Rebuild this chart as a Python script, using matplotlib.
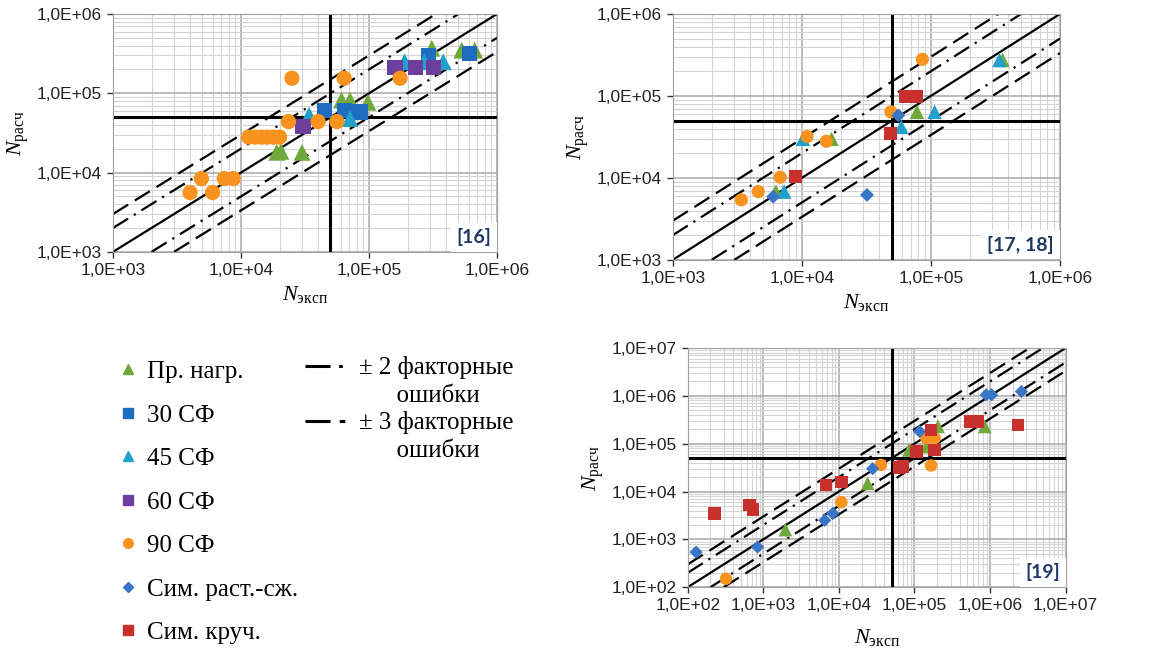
"""Calculated vs experimental fatigue life, three data sources, log-log scatter."""

import numpy as np
import matplotlib
matplotlib.use('Agg')
import matplotlib.pyplot as plt
from matplotlib.lines import Line2D
from matplotlib.ticker import LogLocator, FuncFormatter, NullFormatter

plt.rcParams['font.family'] = ['Liberation Sans', 'DejaVu Sans']
plt.rcParams['mathtext.fontset'] = 'custom'
plt.rcParams['mathtext.rm'] = 'Liberation Serif'
plt.rcParams['mathtext.it'] = 'Liberation Serif:italic'

# series: key, label, marker, colour
SERIES = [
    ('load', 'Пр. нагр.', '^', '#70A83B'),
    ('sf30', '30 СФ', 's', '#1F6DC1'),
    ('sf45', '45 СФ', '^', '#21A1C9'),
    ('sf60', '60 СФ', 's', '#6C3E9E'),
    ('sf90', '90 СФ', 'o', '#F7931E'),
    ('tc', 'Сим. раст.-сж.', 'D', '#3A76C6'),
    ('tor', 'Сим. круч.', 's', '#C8302D'),
]

# ---- panel [16] ----
p16_load_x = [1.9e4, 2.05e4, 3.0e4, 6.1e4, 7.1e4, 9.8e4, 3.1e5, 5.3e5, 6.7e5]
p16_load_y = [1.8e4, 1.85e4, 1.8e4, 8.2e4, 8.2e4, 7.7e4, 3.7e5, 3.5e5, 3.5e5]
p16_sf30_x = [4.5e4, 6.4e4, 8.5e4, 2.9e5, 6.1e5]
p16_sf30_y = [6.1e4, 6.1e4, 5.8e4, 3.0e5, 3.2e5]
p16_sf45_x = [3.4e4, 7.1e4, 1.9e5, 2.7e5, 3.8e5]
p16_sf45_y = [5.3e4, 4.8e4, 2.5e5, 2.5e5, 2.5e5]
p16_sf60_x = [3.05e4, 1.6e5, 2.3e5, 3.2e5]
p16_sf60_y = [3.8e4, 2.1e5, 2.1e5, 2.1e5]
p16_sf90_x = [4.0e3, 4.9e3, 6.0e3, 7.4e3, 8.7e3, 1.15e4, 1.3e4, 1.45e4, 1.6e4,
              1.8e4, 2.0e4, 2.35e4, 2.5e4, 4.0e4, 5.6e4, 6.4e4, 1.75e5]
p16_sf90_y = [5.6e3, 8.4e3, 5.6e3, 8.4e3, 8.4e3, 2.8e4, 2.8e4, 2.8e4, 2.8e4,
              2.8e4, 2.8e4, 4.4e4, 1.55e5, 4.4e4, 4.4e4, 1.55e5, 1.55e5]

# ---- panel [17, 18] ----
p17_load_x = [6.3e3, 1.7e4, 7.8e4, 3.6e5]
p17_load_y = [6.8e3, 3.0e4, 6.4e4, 2.75e5]
p17_sf45_x = [7.3e3, 1.02e4, 5.9e4, 1.07e5, 3.4e5]
p17_sf45_y = [6.8e3, 3.0e4, 4.2e4, 6.4e4, 2.75e5]
p17_sf90_x = [3.4e3, 4.6e3, 6.8e3, 1.1e4, 1.55e4, 4.9e4, 8.6e4]
p17_sf90_y = [5.4e3, 6.8e3, 1.02e4, 3.2e4, 2.8e4, 6.4e4, 2.8e5]
p17_tc_x = [6.0e3, 3.2e4, 5.6e4]
p17_tc_y = [5.9e3, 6.2e3, 5.8e4]
p17_tor_x = [8.9e3, 4.9e4, 6.4e4, 7.8e4]
p17_tor_y = [1.04e4, 3.5e4, 9.8e4, 9.8e4]

# ---- panel [19] ----
p19_load_x = [1.96e3, 2.4e4, 8.5e4, 1.44e5, 2.05e5, 8.5e5]
p19_load_y = [1.6e3, 1.48e4, 7.4e4, 8.7e4, 2.3e5, 2.3e5]
p19_sf90_x = [3.2e2, 1.08e4, 3.6e4, 1.44e5, 1.85e5, 1.66e5]
p19_sf90_y = [1.5e2, 6.0e3, 3.6e4, 1.3e5, 1.3e5, 3.5e4]
p19_tc_x = [1.29e2, 8.4e2, 6.5e3, 8.3e3, 2.8e4, 1.17e5, 8.9e5, 1.05e6, 2.6e6]
p19_tc_y = [5.4e2, 6.9e2, 2.5e3, 3.5e3, 3.0e4, 1.8e5, 1.05e6, 1.05e6, 1.23e6]
p19_tor_x = [2.25e2, 6.6e2, 7.3e2, 6.8e3, 1.08e4, 6.2e4, 7.1e4, 1.06e5, 1.66e5,
             1.85e5, 5.4e5, 6.9e5, 2.35e6]
p19_tor_y = [3.5e3, 5.2e3, 4.2e3, 1.36e4, 1.6e4, 3.2e4, 3.3e4, 6.8e4, 1.95e5,
             7.4e4, 2.9e5, 2.9e5, 2.45e5]

N_LIMIT = 5e4           # thick reference lines
FACTORS = [2, 3]        # factor-error bands

LABEL_COLOUR = '#1F3864'
DASH2 = (8, 3, 1, 3)
DASH3 = (8, 3.5)


def sci_label(v, pos):
    return f'1,0E+{int(round(np.log10(v))):02d}'


def draw_panel(ax, data, lims, tag, ms):
    lo, hi = lims
    ax.set_xscale('log')
    ax.set_yscale('log')
    ax.set_xlim(lo, hi)
    ax.set_ylim(lo, hi)

    ax.grid(True, which='major', color='#a8a8a8', lw=1.1, zorder=0)
    ax.grid(True, which='minor', color='#d4d4d4', lw=0.8, zorder=0)
    ax.set_axisbelow(True)
    for axis in (ax.xaxis, ax.yaxis):
        axis.set_major_locator(LogLocator(base=10, numticks=12))
        axis.set_minor_locator(LogLocator(base=10, subs=np.arange(2, 10), numticks=12))
        axis.set_major_formatter(FuncFormatter(sci_label))
        axis.set_minor_formatter(NullFormatter())
    ax.tick_params(which='major', length=4, width=1, pad=4, labelsize=12.5,
                   color='#333333', labelcolor='#222222')
    ax.tick_params(which='minor', length=0)
    for s in ax.spines.values():
        s.set_color('#a0a0a0')

    # y = x and factor bands
    ax.axline((lo, lo), (hi, hi), color='black', lw=1.6, zorder=2)
    for k, dash in zip(FACTORS, [DASH2, DASH3]):
        for f in (k, 1 / k):
            ax.axline((lo, lo * f), (hi, hi * f), color='black', lw=1.6,
                      dashes=dash, zorder=2)
    ax.axvline(N_LIMIT, color='black', lw=2.2, zorder=2)
    ax.axhline(N_LIMIT, color='black', lw=2.2, zorder=2)

    for key, label, marker, colour in SERIES:
        if key not in data:
            continue
        x, y = data[key]
        size = ms * {'^': 1.1, 'D': 0.75}.get(marker, 1.0)
        ax.scatter(x, y, s=size ** 2, marker=marker, color=colour,
                   edgecolors='none', zorder=3)

    ax.text(0.985, 0.025, tag, transform=ax.transAxes, ha='right', va='bottom',
            fontsize=14, family='Lato', fontweight='bold', color=LABEL_COLOUR,
            bbox=dict(facecolor='white', edgecolor='none', pad=4), zorder=5)

    ax.set_xlabel(r'$N_{\mathrm{эксп}}$', fontsize=16)
    ax.set_ylabel(r'$N_{\mathrm{расч}}$', fontsize=16)


fig = plt.figure(figsize=(11.52, 6.68), dpi=100)

ax1 = fig.add_axes([0.0981, 0.623, 0.3333, 0.356])
draw_panel(ax1, {
    'load': (p16_load_x, p16_load_y),
    'sf30': (p16_sf30_x, p16_sf30_y),
    'sf45': (p16_sf45_x, p16_sf45_y),
    'sf60': (p16_sf60_x, p16_sf60_y),
    'sf90': (p16_sf90_x, p16_sf90_y),
}, (1e3, 1e6), '[16]', 11)

ax2 = fig.add_axes([0.584, 0.611, 0.336, 0.368])
draw_panel(ax2, {
    'load': (p17_load_x, p17_load_y),
    'sf45': (p17_sf45_x, p17_sf45_y),
    'sf90': (p17_sf90_x, p17_sf90_y),
    'tc': (p17_tc_x, p17_tc_y),
    'tor': (p17_tor_x, p17_tor_y),
}, (1e3, 1e6), '[17, 18]', 9.5)

ax3 = fig.add_axes([0.597, 0.121, 0.328, 0.358])
draw_panel(ax3, {
    'load': (p19_load_x, p19_load_y),
    'sf90': (p19_sf90_x, p19_sf90_y),
    'tc': (p19_tc_x, p19_tc_y),
    'tor': (p19_tor_x, p19_tor_y),
}, (1e2, 1e7), '[19]', 9)
ax3.xaxis.labelpad = 10

# marker legend
marker_handles = [
    Line2D([], [], ls='none', marker=m, color=c,
           markersize=7 * {'D': 0.8}.get(m, 1.0))
    for _, _, m, c in SERIES
]
fig.legend(marker_handles, [s[1] for s in SERIES], loc='upper left',
           bbox_to_anchor=(0.1003, 0.460), frameon=False, borderpad=0,
           borderaxespad=0, handlelength=1.0, handletextpad=0.26,
           labelspacing=0.84,
           prop={'family': 'Liberation Serif', 'size': 18})

# factor-error legend
line_handles = [
    Line2D([], [], color='black', lw=2.2, dashes=(8.2, 2.8, 1.2, 3)),
    Line2D([], [], ls='none'),
    Line2D([], [], color='black', lw=2.2, dashes=(8.2, 3, 1.8, 3)),
    Line2D([], [], ls='none'),
]
line_labels = ['± 2 факторные', '      ошибки', '± 3 факторные', '      ошибки']
fig.legend(line_handles, line_labels, loc='upper left',
           bbox_to_anchor=(0.2648, 0.4664), frameon=False, borderpad=0,
           borderaxespad=0, handlelength=1.7, handletextpad=0.45,
           labelspacing=0.19,
           prop={'family': 'Liberation Serif', 'size': 18})

fig.savefig('out.png', dpi=100, facecolor='white')
